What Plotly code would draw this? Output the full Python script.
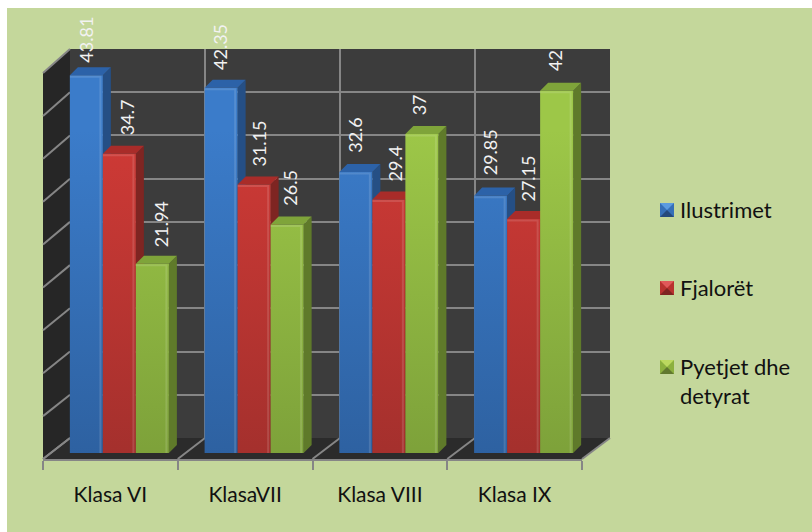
import plotly.graph_objects as go

categories = ["Klasa VI", "KlasaVII", "Klasa VIII", "Klasa IX"]
ilustrimet = [43.81, 42.35, 32.6, 29.85]
fjaloret = [34.7, 31.15, 29.4, 27.15]
pyetjet = [21.94, 26.5, 37, 42]
series_names = ["Ilustrimet", "Fjalorët", "Pyetjet dhe<br>detyrat"]
y_ticks = [0, 5, 10, 15, 20, 25, 30, 35, 40, 45]

W, H = 812, 532
series = [ilustrimet, fjaloret, pyetjet]
front_col = ["#356fb8", "#b8322f", "#8cb03e"]
grad_top = ["#3b7cca", "#cf3a36", "#9dc748"]
grad_bot = ["#2b5c99", "#9c2e2b", "#779a37"]
side_col = ["#254f85", "#7e2522", "#5f7a2a"]
top_col = ["#2c62a8", "#a92c29", "#7fa43a"]
swatch_hi = ["#5b9be0", "#e0595a", "#bcd95f"]
swatch_lo = ["#24497c", "#7e2522", "#61782f"]
GRID = "#868686"
TXT = "#111111"
BARW = 33 / 134.75

# per-label nudges of the rotated value labels, in pixels
label_dx = [[0, 7, 8], [-1, 5, 2], [-1, 6, -2], [-1, 4, -1]]
label_dy = [[12, 18, 16], [17, 17, 18], [18, 17, 18], [19, 16, 19]]


def fx(p):
    return p / W


def fy(p):
    return 1 - p / H


fig = go.Figure()

# back wall subplot (only grid)
fig.add_trace(go.Scatter(x=[-0.5], y=[0], mode="markers", marker=dict(opacity=0), xaxis="x", yaxis="y",
                         showlegend=False, hoverinfo="skip"))

# side and top faces, derived from the values
DX, DY = 8 / 134.75, 8 / 8.62
for s, vals in enumerate(series):
    for c, v in enumerate(vals):
        x0 = c + (s - 1.5) * BARW
        x1 = x0 + BARW
        fig.add_trace(go.Scatter(x=[x1, x1 + DX, x1 + DX, x1, x1], y=[0, DY, v + DY, v, 0], mode="lines",
                                 fill="toself", fillcolor=side_col[s], line=dict(width=0), xaxis="x2", yaxis="y2",
                                 showlegend=False, hoverinfo="skip"))
        fig.add_trace(go.Scatter(x=[x0, x0 + DX, x1 + DX, x1, x0], y=[v, v + DY, v + DY, v, v], mode="lines",
                                 fill="toself", fillcolor=top_col[s], line=dict(width=0), xaxis="x2", yaxis="y2",
                                 showlegend=False, hoverinfo="skip"))

# front faces
for s, vals in enumerate(series):
    fig.add_trace(go.Bar(x=categories, y=vals, name=series_names[s].replace("<br>", " "), marker_color=front_col[s],
                         marker_line_width=0, xaxis="x3", yaxis="y3", showlegend=False))

# front floor edge with the category labels
fig.add_trace(go.Scatter(x=categories, y=[0] * 4, mode="markers", marker=dict(opacity=0), xaxis="x4", yaxis="y4",
                         showlegend=False, hoverinfo="skip"))

# thin bevel highlight along the right and top edge of each front face
EX, EY = 2.5 / 134.75, 1.5 / 8.62
for s, vals in enumerate(series):
    for c, v in enumerate(vals):
        x0 = c + (s - 1.5) * BARW
        x1 = x0 + BARW
        fig.add_trace(go.Scatter(x=[x0, x1 - EX, x1 - EX], y=[v - EY, v - EY, 0], mode="lines",
                                 line=dict(color="rgba(255,255,255,0.13)", width=2), xaxis="x5", yaxis="y5",
                                 showlegend=False, hoverinfo="skip"))

shapes = [
    dict(type="rect", xref="paper", yref="paper", x0=fx(7), x1=1, y0=0, y1=fy(8), fillcolor="#C4D79B",
         line_width=0, layer="below"),
    dict(type="rect", xref="paper", yref="paper", x0=fx(70), x1=fx(610), y0=fy(438), y1=fy(49), fillcolor="#3c3c3c",
         line_width=0, layer="below"),
    dict(type="path", xref="paper", yref="paper", layer="below", line_width=0, fillcolor="#262626",
         path=f"M{fx(43)},{fy(73)}L{fx(70)},{fy(49)}L{fx(70)},{fy(438)}L{fx(43)},{fy(459)}Z"),
    dict(type="path", xref="paper", yref="paper", layer="below", line_width=0, fillcolor="#2b2b2b",
         path=f"M{fx(43)},{fy(459)}L{fx(70)},{fy(438)}L{fx(610)},{fy(438)}L{fx(582)},{fy(459)}Z"),
]
for v in y_ticks:
    yf = 459 - v * (459 - 73) / 45
    yb = 438 - v * (438 - 49) / 45
    shapes.append(dict(type="line", xref="paper", yref="paper", layer="below", x0=fx(43), x1=fx(70), y0=fy(yf),
                       y1=fy(yb), line=dict(color=GRID, width=2)))
for k in range(5):
    shapes.append(dict(type="line", xref="paper", yref="paper", layer="below", x0=fx(43 + 134.75 * k),
                       x1=fx(70 + 135 * k), y0=fy(459), y1=fy(438), line=dict(color=GRID, width=2)))

annotations = []
for c in range(4):
    for s, vals in enumerate(series):
        annotations.append(dict(x=c + (s - 1) * BARW, y=vals[c], xref="x3", yref="y3", text=str(vals[c]),
                                textangle=-90, showarrow=False, xanchor="center", yanchor="bottom",
                                xshift=label_dx[c][s], yshift=label_dy[c][s], borderpad=0,
                                font=dict(family="Lato", size=18, color="#f2f2f2")))

legend_y = [210, 288, 367]
for s, name in enumerate(series_names):
    x0, x1, y0, y1 = 660, 674, legend_y[s] - 7, legend_y[s] + 7
    xc, yc = (x0 + x1) / 2, (y0 + y1) / 2
    shapes.append(dict(type="rect", xref="paper", yref="paper", x0=fx(x0), x1=fx(x1), y0=fy(y1), y1=fy(y0),
                       fillcolor=front_col[s], line_width=0))
    shapes.append(dict(type="path", xref="paper", yref="paper", fillcolor=swatch_hi[s], line_width=0,
                       path=f"M{fx(x0)},{fy(y0)}L{fx(x1)},{fy(y0)}L{fx(xc)},{fy(yc)}Z"))
    shapes.append(dict(type="path", xref="paper", yref="paper", fillcolor=swatch_lo[s], line_width=0,
                       path=f"M{fx(x0)},{fy(y1)}L{fx(x1)},{fy(y1)}L{fx(xc)},{fy(yc)}Z"))
    annotations.append(dict(x=fx(679), y=fy(legend_y[s] - 15), xref="paper", yref="paper", text=name, showarrow=False,
                            xanchor="left", yanchor="top", align="left", borderpad=0,
                            font=dict(family="Lato", size=22, color=TXT)))

hidden = dict(showgrid=False, zeroline=False, showticklabels=False, ticks="", showline=False, fixedrange=True)
fig.update_layout(
    width=W, height=H, autosize=False, margin=dict(l=0, r=0, t=0, b=0),
    paper_bgcolor="#ffffff", plot_bgcolor="rgba(0,0,0,0)",
    barmode="group", bargap=0.265, bargroupgap=0, showlegend=False,
    font=dict(family="Lato", size=21, color=TXT),
    shapes=shapes, annotations=annotations,
    xaxis=dict(domain=[fx(70), fx(610)], range=[-0.5, 3.5], tick0=-0.5, dtick=1, showgrid=True, gridcolor=GRID,
               gridwidth=2, zeroline=False, showticklabels=False, ticks="", showline=False, fixedrange=True),
    yaxis=dict(domain=[fy(438), fy(49)], range=[0, 45], tickvals=y_ticks, showgrid=True, gridcolor=GRID, gridwidth=2,
               zeroline=False, showticklabels=False, ticks="", showline=False, fixedrange=True),
    xaxis2=dict(domain=[fx(52), fx(591)], range=[-0.5, 3.5], anchor="y2", **hidden),
    yaxis2=dict(domain=[fy(453), fy(65)], range=[0, 45], anchor="x2", **hidden),
    xaxis3=dict(domain=[fx(52), fx(591)], type="category", categoryorder="array", categoryarray=categories,
                range=[-0.5, 3.5], anchor="y3", **hidden),
    yaxis3=dict(domain=[fy(453), fy(65)], range=[0, 45], anchor="x3", **hidden),
    xaxis4=dict(domain=[fx(43), fx(582)], type="category", categoryorder="array", categoryarray=categories,
                range=[-0.5, 3.5], anchor="y4", tickson="boundaries", ticks="outside", ticklen=9, tickwidth=2,
                tickcolor=GRID, showline=True, linecolor=GRID, linewidth=2, showgrid=False, zeroline=False,
                tickfont=dict(family="Lato", size=21, color=TXT), ticklabelstandoff=16, fixedrange=True),
    yaxis4=dict(domain=[fy(459), fy(440)], range=[0, 1], anchor="x4", **hidden),
    xaxis5=dict(domain=[fx(52), fx(591)], range=[-0.5, 3.5], anchor="y5", **hidden),
    yaxis5=dict(domain=[fy(453), fy(65)], range=[0, 45], anchor="x5", **hidden),
)

post = """
document.body.style.margin = '0';
document.documentElement.style.overflow = 'hidden';
var gd = document.querySelector('.js-plotly-plot');
var svg = gd.querySelector('svg.main-svg');
var ns = 'http://www.w3.org/2000/svg';
var tops = %s, bots = %s;
var defs = document.createElementNS(ns, 'defs');
tops.forEach(function (t, i) {
  var g = document.createElementNS(ns, 'linearGradient');
  g.setAttribute('id', 'bargrad' + i);
  g.setAttribute('gradientUnits', 'userSpaceOnUse');
  g.setAttribute('x1', '0'); g.setAttribute('x2', '0');
  g.setAttribute('y1', '65'); g.setAttribute('y2', '453');
  [[0, t], [1, bots[i]]].forEach(function (st) {
    var s = document.createElementNS(ns, 'stop');
    s.setAttribute('offset', st[0]); s.setAttribute('stop-color', st[1]);
    g.appendChild(s);
  });
  defs.appendChild(g);
});
svg.insertBefore(defs, svg.firstChild);
gd.querySelectorAll('.barlayer .trace.bars').forEach(function (tr, i) {
  tr.querySelectorAll('path').forEach(function (p) { p.style.fill = 'url(#bargrad' + i + ')'; });
});
""" % (grad_top, grad_bot)

fig.write_html("out.html", post_script=post, config=dict(displayModeBar=False))
